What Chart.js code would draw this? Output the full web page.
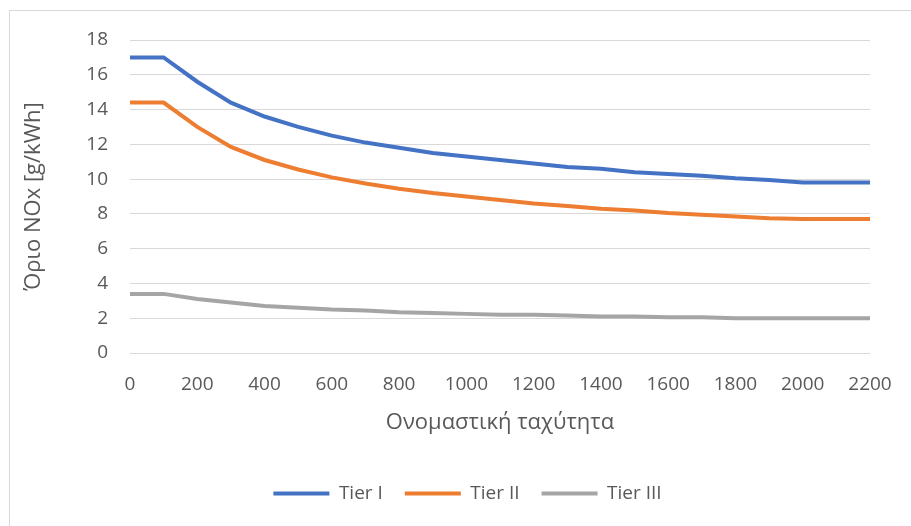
<!DOCTYPE html>
<html lang="el">
<head>
  <meta charset="UTF-8">
  <script src="https://cdn.jsdelivr.net/npm/chart.js@4.4.1/dist/chart.umd.min.js"></script>
  <title>Όριο NOx</title>
  <style>
    html, body { margin: 0; padding: 0; background: #fff; overflow: hidden; }
    #frame { position: absolute; left: 9px; top: 10px; width: 930px; height: 540px; border: 1px solid #d9d9d9; box-sizing: border-box; }
    #wrap { position: absolute; left: 0; top: 0; width: 911px; height: 526px; }
  </style>
</head>
<body>
  <div id="frame"></div>
  <div id="wrap"><canvas id="myChart" width="911" height="526"></canvas></div>
  <script>
    const speeds = [0, 100, 200, 300, 400, 500, 600, 700, 800, 900, 1000, 1100,
      1200, 1300, 1400, 1500, 1600, 1700, 1800, 1900, 2000, 2100, 2200];
    const tier1 = [17, 17, 15.6, 14.4, 13.6, 13.0, 12.5, 12.1, 11.8, 11.5, 11.3, 11.1,
      10.9, 10.7, 10.6, 10.4, 10.3, 10.2, 10.05, 9.95, 9.8, 9.8, 9.8];
    const tier2 = [14.4, 14.4, 13.0, 11.85, 11.1, 10.55, 10.1, 9.75, 9.45, 9.2, 9.0, 8.8,
      8.6, 8.45, 8.3, 8.2, 8.05, 7.95, 7.85, 7.75, 7.7, 7.7, 7.7];
    const tier3 = [3.4, 3.4, 3.1, 2.9, 2.7, 2.6, 2.5, 2.45, 2.35, 2.3, 2.25, 2.2,
      2.2, 2.15, 2.1, 2.1, 2.05, 2.05, 2.0, 2.0, 2.0, 2.0, 2.0];
    const seriesNames = ['Tier I', 'Tier II', 'Tier III'];
    const colors = ['#4472C4', '#ED7D31', '#A5A5A5'];

    function pts(vals) {
      return speeds.map((s, i) => ({ x: s, y: vals[i] }));
    }

    const font = "'Open Sans', 'Liberation Sans', sans-serif";
    const textColor = '#595959';

    // nudge the legend a bit right, like the original
    const legendShift = {
      id: 'legendShift',
      afterLayout(chart) {
        chart.legend.left += 24;
        chart.legend.right += 24;
      }
    };

    new Chart('myChart', {
      type: 'line',
      data: {
        datasets: [tier1, tier2, tier3].map((vals, i) => ({
          label: seriesNames[i],
          data: pts(vals),
          borderColor: colors[i],
          backgroundColor: colors[i],
          borderWidth: 4,
          pointRadius: 0,
          tension: 0,
          borderCapStyle: 'round'
        }))
      },
      options: {
        responsive: false,
        animation: false,
        layout: { padding: { left: 17, right: 41, top: 40, bottom: 13 } },
        scales: {
          x: {
            type: 'linear',
            min: 0, max: 2200,
            afterFit: s => { s.height = 109; },
            ticks: { stepSize: 200, color: textColor, font: { family: font, size: 19 }, padding: 12,
              maxRotation: 0, callback: v => String(v) },
            grid: { display: false },
            border: { display: false },
            title: { display: true, text: 'Ονομαστική ταχύτητα', color: textColor, font: { family: font, size: 22 }, padding: { top: 4, bottom: 26 } }
          },
          y: {
            min: 0, max: 18,
            afterFit: s => { s.width = 113; },
            ticks: { stepSize: 2, color: textColor, font: { family: font, size: 19 }, padding: 22 },
            grid: { color: '#d9d9d9', lineWidth: 1, drawTicks: false },
            border: { display: false },
            title: { display: true, text: 'Όριο NOx [g/kWh]', color: textColor, font: { family: font, size: 22 }, padding: { bottom: 4 } }
          }
        },
        plugins: {
          legend: {
            position: 'bottom',
            labels: {
              usePointStyle: true,
              pointStyle: 'line',
              pointStyleWidth: 56,
              boxHeight: 4,
              color: textColor,
              font: { family: font, size: 19 },
              padding: 22
            }
          },
          tooltip: { enabled: false }
        }
      },
      plugins: [legendShift]
    });
  </script>
</body>
</html>
